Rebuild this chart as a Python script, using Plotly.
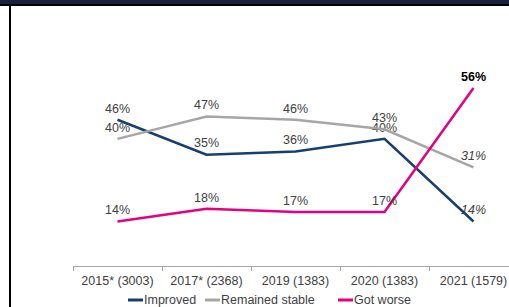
import plotly.graph_objects as go

# ---- data ----
years = ["2015* (3003)", "2017* (2368)", "2019 (1383)", "2020 (1383)", "2021 (1579)"]
improved = [46, 35, 36, 40, 14]
stable = [40, 47, 46, 43, 31]
worse = [14, 18, 17, 17, 56]
series_names = ["Improved", "Remained stable", "Got worse"]
series_values = [improved, stable, worse]

# ---- styles ----
colors = ["#173F6D", "#A6A6A6", "#E5007D"]
last_label_style = ["i", "i", "b"]
legend_key_left_px = [128, 205, 338]   # left edge of each legend key (pixels)
legend_key_len_px = 15
legend_y_px = 300

# ---- layout geometry (pixels) ----
W, H = 509, 307
ML, MR, MT, MB = 73, 0, 68, 41
plot_w = W - ML - MR
plot_h = H - MT - MB
cat_px = 89.0
y_top = plot_h / 3.179

def px_x(x):
    return (x - ML) / plot_w

def px_y(y):
    return (H - MB - y) / plot_h

def make_labels(vals, style):
    out = [f"{v}%" for v in vals]
    if style == "b":
        out[-1] = f"<b>{out[-1]}</b>"
    elif style == "i":
        out[-1] = f"<i>{out[-1]}</i>"
    return out

FONT = "Liberation Sans, Arial, sans-serif"
TXT = "#404040"
fig = go.Figure()
for name, vals, col, st in zip(series_names, series_values, colors, last_label_style):
    tcols = [TXT] * len(vals)
    if st == "b":
        tcols[-1] = "#000000"
    fig.add_trace(go.Scatter(
        x=years, y=vals, name=name, mode="lines+markers+text",
        line=dict(color=col, width=2.5),
        marker=dict(size=5, opacity=0, color=col),
        text=make_labels(vals, st), textposition="top center",
        textfont=dict(size=12.5, color=tcols, family=FONT),
        cliponaxis=False, hoverinfo="skip", showlegend=False,
    ))

shapes = [
    dict(type="rect", xref="paper", yref="paper", x0=px_x(0), x1=px_x(W),
         y0=px_y(4), y1=px_y(0), fillcolor="#17223E", line=dict(width=0), layer="above"),
    dict(type="rect", xref="paper", yref="paper", x0=px_x(0), x1=px_x(W),
         y0=px_y(6), y1=px_y(4), fillcolor="#000000", line=dict(width=0), layer="above"),
    dict(type="rect", xref="paper", yref="paper", x0=px_x(9), x1=px_x(11),
         y0=px_y(H), y1=px_y(6), fillcolor="#000000", line=dict(width=0), layer="above"),
]

annotations = []
for name, col, lx in zip(series_names, colors, legend_key_left_px):
    shapes.append(dict(type="line", xref="paper", yref="paper",
                       x0=px_x(lx), x1=px_x(lx + legend_key_len_px),
                       y0=px_y(legend_y_px), y1=px_y(legend_y_px),
                       line=dict(color=col, width=3)))
    annotations.append(dict(xref="paper", yref="paper", x=px_x(lx + legend_key_len_px),
                            y=px_y(legend_y_px), xanchor="left", yanchor="middle",
                            text=name, showarrow=False, borderpad=0, xshift=0,
                            font=dict(size=12.5, color=TXT, family=FONT)))

fig.update_layout(
    width=W, height=H,
    margin=dict(l=ML, r=MR, t=MT, b=MB, pad=0),
    paper_bgcolor="white", plot_bgcolor="white",
    font=dict(family=FONT, size=12.5, color=TXT),
    showlegend=False,
    shapes=shapes,
    annotations=annotations,
    xaxis=dict(type="category", range=[-0.5, -0.5 + plot_w / cat_px],
               showgrid=False, showline=True, linecolor="#A6A6A6", linewidth=1,
               ticks="outside", tickson="boundaries", ticklen=4, tickcolor="#A6A6A6",
               ticklabelstandoff=3,
               tickfont=dict(size=12.5, color=TXT, family=FONT), fixedrange=True),
    yaxis=dict(visible=False, range=[0, y_top], showgrid=False, zeroline=False, fixedrange=True),
)

fig.write_html(
    "out.html",
    config={"displayModeBar": False},
    post_script="document.body.style.margin='0';document.body.style.overflow='hidden';",
)
